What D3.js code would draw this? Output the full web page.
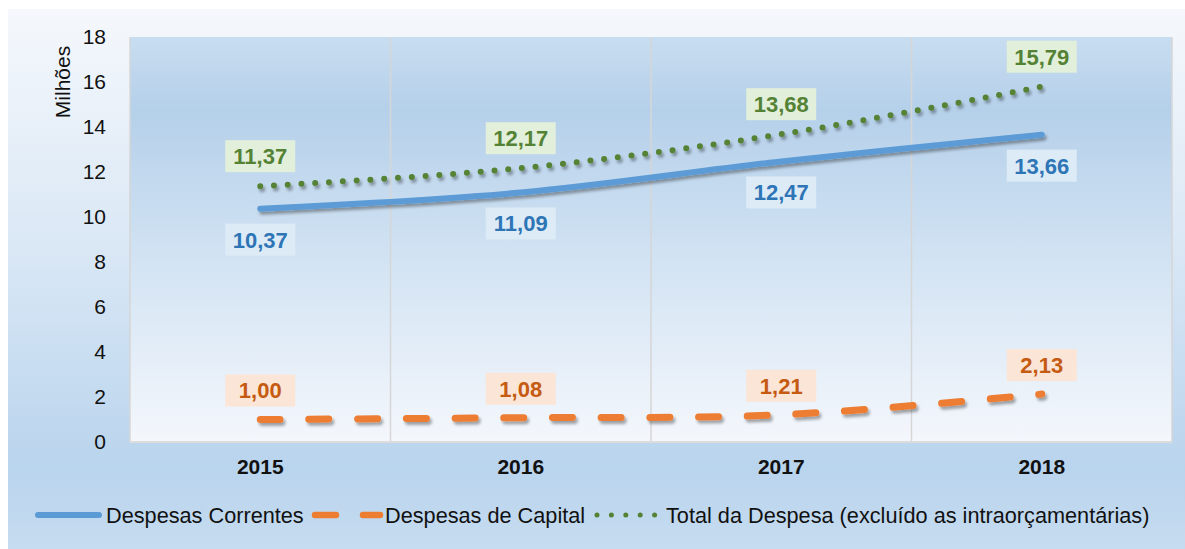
<!DOCTYPE html>
<html>
<head>
<meta charset="utf-8">
<script src="https://cdn.jsdelivr.net/npm/d3@7"></script>
<style>
  body { margin: 0; background: #fff; }
  svg { display: block; font-family: "Liberation Sans", Arial, sans-serif; }
</style>
</head>
<body>
<svg id="chart"></svg>
<script>
// Values (milhões)
const years = ["2015", "2016", "2017", "2018"];
const correntes = [10.37, 11.09, 12.47, 13.66];
const capital = [1.00, 1.08, 1.21, 2.13];
const total = [11.37, 12.17, 13.68, 15.79];
const yTicks = [0, 2, 4, 6, 8, 10, 12, 14, 16, 18];
const legendNames = ["Despesas Correntes", "Despesas de Capital", "Total da Despesa (excluído as intraorçamentárias)"];

const W = 1185, H = 549;
const plot = { left: 130, right: 1172, top: 37, bottom: 442 };

const svg = d3.select("#chart").attr("width", W).attr("height", H);
const defs = svg.append("defs");

// background gradients
const outerGrad = defs.append("linearGradient").attr("id", "outerGrad")
  .attr("x1", 0).attr("y1", 0).attr("x2", 0).attr("y2", 1);
outerGrad.append("stop").attr("offset", "0%").attr("stop-color", "#f5f8fc");
outerGrad.append("stop").attr("offset", "45%").attr("stop-color", "#d9e7f5");
outerGrad.append("stop").attr("offset", "85%").attr("stop-color", "#b9d4ed");
outerGrad.append("stop").attr("offset", "100%").attr("stop-color", "#c6dcf0");

const plotGrad = defs.append("linearGradient").attr("id", "plotGrad")
  .attr("x1", 0).attr("y1", 0).attr("x2", 0).attr("y2", 1);
plotGrad.append("stop").attr("offset", "0%").attr("stop-color", "#c8ddf0");
plotGrad.append("stop").attr("offset", "18%").attr("stop-color", "#b5d0ea");
plotGrad.append("stop").attr("offset", "55%").attr("stop-color", "#d2e3f3");
plotGrad.append("stop").attr("offset", "100%").attr("stop-color", "#f4f7fc");

// drop shadow for lines
const shadow = defs.append("filter").attr("id", "shadow")
  .attr("x", "-5%").attr("y", "-50%").attr("width", "110%").attr("height", "200%");
shadow.append("feGaussianBlur").attr("in", "SourceAlpha").attr("stdDeviation", 1.6).attr("result", "blur");
shadow.append("feOffset").attr("in", "blur").attr("dx", 2).attr("dy", 3).attr("result", "off");
shadow.append("feComponentTransfer").attr("in", "off").attr("result", "soft")
  .append("feFuncA").attr("type", "linear").attr("slope", 0.35);
const merge = shadow.append("feMerge");
merge.append("feMergeNode").attr("in", "soft");
merge.append("feMergeNode").attr("in", "SourceGraphic");

svg.append("rect").attr("x", 8).attr("y", 9).attr("width", W - 8).attr("height", H - 9)
  .attr("fill", "url(#outerGrad)");

svg.append("rect")
  .attr("x", plot.left).attr("y", plot.top)
  .attr("width", plot.right - plot.left).attr("height", plot.bottom - plot.top)
  .attr("fill", "url(#plotGrad)");

// scales
const x = d3.scaleBand().domain(years).range([plot.left, plot.right]).padding(0);
const y = d3.scaleLinear().domain([0, 18]).range([plot.bottom, plot.top]);
const cx = d => x(d) + x.bandwidth() / 2;

// vertical grid lines between categories + borders
const edges = years.map(d => x(d)).concat([plot.right]);
svg.append("g").selectAll("line").data(edges).join("line")
  .attr("x1", d => d).attr("x2", d => d)
  .attr("y1", plot.top).attr("y2", plot.bottom)
  .attr("stroke", "#d6d6d6").attr("stroke-width", 1.5);
svg.append("line").attr("x1", plot.left).attr("x2", plot.right)
  .attr("y1", plot.bottom).attr("y2", plot.bottom)
  .attr("stroke", "#dcdcdc").attr("stroke-width", 2);

// axes
const yAxis = svg.append("g")
  .attr("transform", `translate(${plot.left},0)`)
  .call(d3.axisLeft(y).tickValues(yTicks).tickSize(0).tickPadding(24));
yAxis.select(".domain").remove();
yAxis.selectAll("text").attr("font-size", 21).attr("fill", "#111")
  .attr("font-family", "Liberation Sans, Arial, sans-serif");

const xAxis = svg.append("g")
  .attr("transform", `translate(0,${plot.bottom})`)
  .call(d3.axisBottom(x).tickSize(0).tickPadding(17));
xAxis.select(".domain").remove();
xAxis.selectAll("text").attr("font-size", 21).attr("font-weight", "bold").attr("fill", "#111")
  .attr("font-family", "Liberation Sans, Arial, sans-serif");

svg.append("text")
  .attr("transform", "translate(70,82) rotate(-90)")
  .attr("text-anchor", "middle")
  .attr("font-size", 21).attr("fill", "#111")
  .text("Milhões");

// series
const series = [
  { name: legendNames[0], values: correntes, color: "#5b9bd5", width: 6, dash: null,
    labelFill: "#ddebf7", labelColor: "#2e75b6", dy: 31 },
  { name: legendNames[1], values: capital, color: "#ed7d31", width: 7, dash: "20 28.7",
    labelFill: "#fbe5d6", labelColor: "#c55a11", dy: -29 },
  { name: legendNames[2], values: total, color: "#548235", width: 6, dash: "0 13.8",
    labelFill: "#e2efda", labelColor: "#548235", dy: -30 }
];

const line = d3.line()
  .x((d, i) => cx(years[i]))
  .y(d => y(d))
  .curve(d3.curveCatmullRom.alpha(0.5));

series.forEach(s => {
  svg.append("path")
    .datum(s.values)
    .attr("d", line)
    .attr("fill", "none")
    .attr("stroke", s.color)
    .attr("stroke-width", s.width)
    .attr("stroke-linecap", "round")
    .attr("stroke-dasharray", s.dash)
    .attr("filter", "url(#shadow)");
});

// data labels
const fmt = v => d3.format(".2f")(v).replace(".", ",");
series.forEach(s => {
  const g = svg.append("g");
  s.values.forEach((v, i) => {
    const px = cx(years[i]), py = y(v) + s.dy;
    g.append("rect")
      .attr("x", px - 35).attr("y", py - 16)
      .attr("width", 70).attr("height", 32)
      .attr("fill", s.labelFill);
    g.append("text")
      .attr("x", px).attr("y", py)
      .attr("dy", "0.36em")
      .attr("text-anchor", "middle")
      .attr("font-size", 22).attr("font-weight", "bold")
      .attr("fill", s.labelColor)
      .text(fmt(v));
  });
});

// legend
const ly = 515;
const leg = svg.append("g");
leg.append("line").attr("x1", 38).attr("x2", 99).attr("y1", ly).attr("y2", ly)
  .attr("stroke", series[0].color).attr("stroke-width", 6).attr("stroke-linecap", "round");
leg.append("text").attr("x", 106).attr("y", ly).attr("dy", "0.36em")
  .attr("font-size", 21.7).attr("fill", "#111").text(series[0].name);

leg.append("line").attr("x1", 315).attr("x2", 380).attr("y1", ly).attr("y2", ly)
  .attr("stroke", series[1].color).attr("stroke-width", 6.5).attr("stroke-linecap", "round")
  .attr("stroke-dasharray", "21 27");
leg.append("text").attr("x", 385).attr("y", ly).attr("dy", "0.36em")
  .attr("font-size", 21.7).attr("fill", "#111").text(series[1].name);

leg.append("line").attr("x1", 597).attr("x2", 655).attr("y1", ly).attr("y2", ly)
  .attr("stroke", series[2].color).attr("stroke-width", 5).attr("stroke-linecap", "round")
  .attr("stroke-dasharray", "0 14.4");
leg.append("text").attr("x", 666).attr("y", ly).attr("dy", "0.36em")
  .attr("font-size", 21.7).attr("fill", "#111").text(series[2].name);
</script>
</body>
</html>
